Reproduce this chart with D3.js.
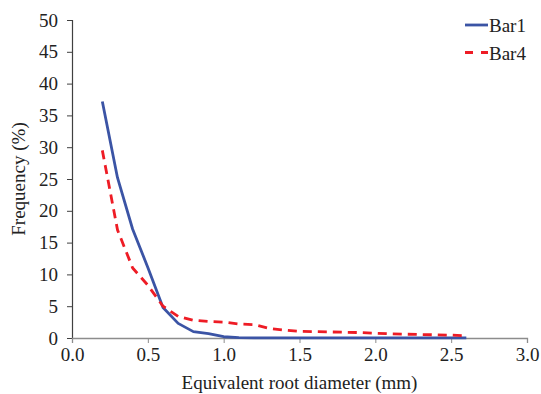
<!DOCTYPE html>
<html>
<head>
<meta charset="utf-8">
<script src="https://cdn.jsdelivr.net/npm/d3@7/dist/d3.min.js"></script>
<style>
  html, body { margin: 0; padding: 0; background: #fff; }
  svg { display: block; }
  svg text { font-family: 'Liberation Serif', 'Times New Roman', serif; fill: #222; }
</style>
</head>
<body>
<svg id="chart" width="541" height="394"></svg>
<script>
// diameter classes (mm)
const diameters = [0.2, 0.3, 0.4, 0.5, 0.6, 0.7, 0.8, 0.9, 1.0, 1.1, 1.2, 1.3, 1.4, 1.5, 1.6, 1.7, 1.8, 1.9, 2.0, 2.1, 2.2, 2.3, 2.4, 2.5, 2.6]
const bar1 = [37.2, 25.2, 17.1, 11.1, 4.8, 2.3, 1.0, 0.7, 0.2, 0.05, 0.02, 0.02, 0.02, 0.02, 0.02, 0.02, 0.02, 0.02, 0.02, 0.02, 0.02, 0.02, 0.02, 0.02, 0.02]
const bar4 = [29.5, 17.0, 11.0, 8.3, 5.0, 3.4, 2.8, 2.6, 2.5, 2.2, 2.1, 1.5, 1.25, 1.05, 1.0, 0.95, 0.9, 0.85, 0.75, 0.65, 0.6, 0.55, 0.5, 0.45, 0.35]
const seriesNames = ['Bar1', 'Bar4']
const xTicks = [0, 0.5, 1.0, 1.5, 2.0, 2.5, 3.0]
const yTicks = [0, 5, 10, 15, 20, 25, 30, 35, 40, 45, 50]

const margin = { top: 20, right: 14, bottom: 56, left: 72 }
const width = 541
const height = 394

const svg = d3.select('#chart')
const x = d3.scaleLinear().domain([0, 3]).range([margin.left, width - margin.right])
const y = d3.scaleLinear().domain([0, 50]).range([height - margin.bottom, margin.top])

const yAxis = svg.append('g')
  .attr('transform', `translate(${margin.left},0)`)
  .call(d3.axisLeft(y).tickValues(yTicks).tickSize(5).tickPadding(9).tickFormat(d3.format('d')))
yAxis.attr('font-family', null).attr('font-size', 19)
yAxis.select('.domain').attr('stroke', '#404040').attr('stroke-width', 1.2)
yAxis.selectAll('.tick line').attr('stroke', '#404040')

const xAxis = svg.append('g')
  .attr('transform', `translate(0,${height - margin.bottom})`)
  .call(d3.axisBottom(x).tickValues(xTicks).tickSize(5).tickPadding(5).tickFormat(d3.format('.1f')))
xAxis.attr('font-family', null).attr('font-size', 19)
xAxis.select('.domain').attr('stroke', '#8c8c8c').attr('stroke-width', 1.3)
xAxis.selectAll('.tick line').attr('stroke', '#8c8c8c')

svg.append('text')
  .attr('x', (margin.left + width - margin.right) / 2)
  .attr('y', height - 5)
  .attr('text-anchor', 'middle')
  .attr('font-size', 19)
  .text('Equivalent root diameter (mm)')

svg.append('text')
  .attr('transform', `translate(25,${(margin.top + height - margin.bottom) / 2}) rotate(-90)`)
  .attr('text-anchor', 'middle')
  .attr('font-size', 19)
  .text('Frequency (%)')

const line = d3.line().x((d) => x(d[0])).y((d) => y(d[1]))
const styles = [
  { color: '#3b54a5', dash: null, legendDash: null },
  { color: '#ee1c25', dash: '9,6', legendDash: '8,8' },
]

;[bar1, bar4].forEach((values, i) => {
  svg.append('path')
    .datum(diameters.map((d, j) => [d, values[j]]))
    .attr('fill', 'none')
    .attr('stroke', styles[i].color)
    .attr('stroke-width', 2.8)
    .attr('stroke-dasharray', styles[i].dash)
    .attr('stroke-linejoin', 'round')
    .attr('d', line)
})

const legend = svg.append('g').attr('transform', 'translate(465,25)')
seriesNames.forEach((name, i) => {
  const row = legend.append('g').attr('transform', `translate(0,${i * 27.5})`)
  row.append('line').attr('x1', 0).attr('x2', 23).attr('y1', 0).attr('y2', 0)
    .attr('stroke', styles[i].color).attr('stroke-width', 2.8)
    .attr('stroke-dasharray', styles[i].legendDash)
  row.append('text').attr('x', 24).attr('y', 7)
    .attr('font-size', 19)
    .text(name)
})
</script>
</body>
</html>
